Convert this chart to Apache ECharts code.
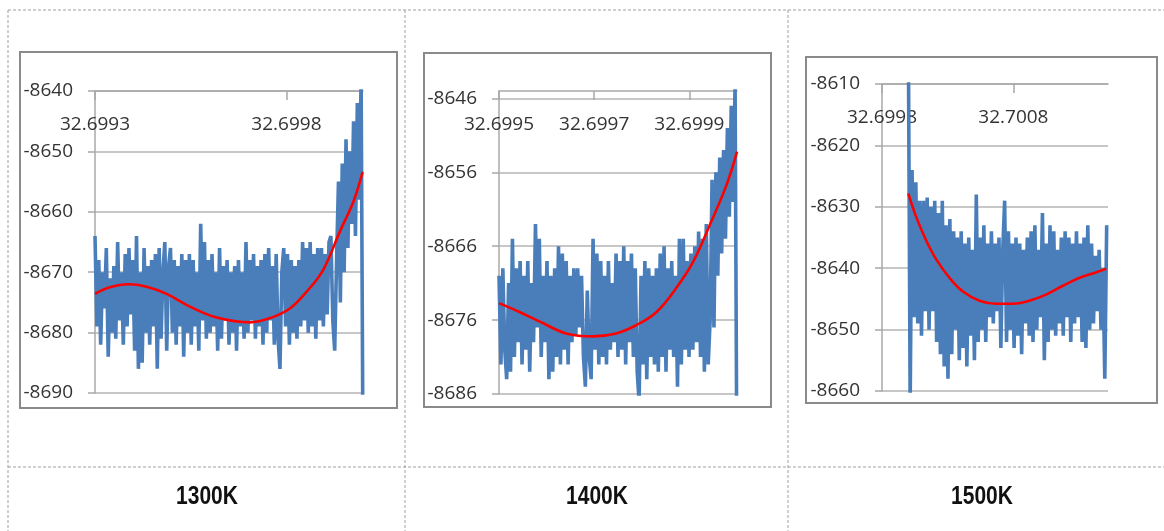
<!DOCTYPE html>
<html>
<head>
<meta charset="utf-8">
<title>Energy vs lattice parameter, 1300K / 1400K / 1500K</title>
<script src="https://cdn.jsdelivr.net/npm/echarts@6/dist/echarts.min.js"></script>
<style>
  html, body { margin: 0; padding: 0; background: #ffffff; }
  #chart { width: 1164px; height: 531px; }
</style>
</head>
<body>
<div id="chart"></div>
<script>
// ---- 1300K ----
const temp1300 = '1300K';
const xAxisRange1300 = [32.6993, 32.7000];
const xTickLabels1300 = [32.6993, 32.6998];
const yAxisRange1300 = [-8690, -8640];
const yTickLabels1300 = [-8690, -8680, -8670, -8660, -8650, -8640];
const sampleSpan1300 = [32.6993, 32.7000];
const energy1300 = [
  -8664, -8679, -8668, -8682, -8670, -8676, -8666, -8684, -8671, -8680,
  -8669, -8681, -8665, -8678, -8670, -8682, -8667, -8679, -8666, -8677,
  -8668, -8683, -8664, -8686, -8670, -8685, -8666, -8680, -8669, -8682,
  -8668, -8679, -8667, -8686, -8666, -8681, -8670, -8665, -8683, -8669,
  -8666, -8680, -8668, -8682, -8669, -8679, -8667, -8684, -8668, -8680,
  -8667, -8682, -8668, -8679, -8670, -8683, -8662, -8678, -8665, -8681,
  -8668, -8680, -8667, -8679, -8670, -8683, -8666, -8681, -8669, -8678,
  -8668, -8682, -8670, -8680, -8669, -8683, -8668, -8679, -8670, -8681,
  -8665, -8680, -8668, -8678, -8667, -8681, -8669, -8679, -8668, -8682,
  -8667, -8680, -8666, -8678, -8669, -8682, -8667, -8681, -8686, -8670,
  -8666, -8679, -8667, -8682, -8668, -8680, -8669, -8681, -8668, -8679,
  -8665, -8678, -8666, -8680, -8665, -8679, -8667, -8681, -8666, -8678,
  -8666, -8679, -8667, -8677, -8665, -8664, -8678, -8683, -8668, -8655,
  -8675, -8652, -8670, -8648, -8666, -8650, -8662, -8645, -8664, -8642,
  -8658, -8638, -8700
];
const fitX1300 = [32.69930, 32.699339, 32.699387, 32.699435, 32.699487, 32.699548, 32.699618,
  32.699705, 32.699757, 32.699809, 32.699853, 32.699896, 32.699940, 32.699975, 32.699999];
const fitY1300 = [-8673.6, -8672.5, -8672.0, -8672.4, -8673.6, -8675.7, -8677.5,
  -8678.3, -8677.6, -8676.0, -8673.2, -8669.6, -8663.2, -8658.3, -8653.4];

// ---- 1400K ----
const temp1400 = '1400K';
const xAxisRange1400 = [32.6995, 32.7000];
const xTickLabels1400 = [32.6995, 32.6997, 32.6999];
const yAxisRange1400 = [-8686, -8645];
const yTickLabels1400 = [-8686, -8676, -8666, -8656, -8646];
const sampleSpan1400 = [32.6995, 32.7000];
const energy1400 = [
  -8670, -8682, -8669, -8680, -8684, -8671, -8683, -8665, -8681, -8669,
  -8679, -8668, -8682, -8670, -8680, -8668, -8683, -8671, -8679, -8663,
  -8677, -8665, -8681, -8670, -8679, -8668, -8684, -8670, -8683, -8669,
  -8681, -8666, -8682, -8667, -8680, -8668, -8682, -8670, -8679, -8669,
  -8678, -8669, -8677, -8670, -8681, -8685, -8672, -8681, -8684, -8665,
  -8680, -8667, -8682, -8668, -8681, -8670, -8682, -8668, -8680, -8671,
  -8679, -8667, -8681, -8668, -8680, -8666, -8682, -8668, -8679, -8667,
  -8681, -8669, -8683, -8687, -8670, -8682, -8668, -8684, -8669, -8681,
  -8670, -8682, -8669, -8683, -8667, -8681, -8666, -8683, -8669, -8680,
  -8668, -8681, -8670, -8685, -8665, -8682, -8665, -8680, -8668, -8681,
  -8667, -8680, -8666, -8679, -8664, -8681, -8665, -8683, -8663, -8682,
  -8676, -8657, -8677, -8656, -8670, -8654, -8667, -8653, -8665, -8650,
  -8662, -8647, -8660, -8644, -8700
];
const fitX1400 = [32.69950, 32.699543, 32.699592, 32.699641, 32.699697, 32.699746, 32.699788,
  32.699831, 32.699872, 32.699908, 32.699943, 32.699978, 32.700000];
const fitY1400 = [-8673.7, -8674.9, -8676.4, -8677.8, -8678.2, -8677.8, -8676.7,
  -8674.9, -8671.7, -8668.1, -8663.1, -8657.7, -8653.2];

// ---- 1500K ----
const temp1500 = '1500K';
const xAxisRange1500 = [32.6998, 32.70152];
const xTickLabels1500 = [32.6998, 32.7008];
const yAxisRange1500 = [-8660, -8610];
const yTickLabels1500 = [-8660, -8650, -8640, -8630, -8620, -8610];
const sampleSpan1500 = [32.7000, 32.70151];
const energy1500 = [
  -8600, -8662, -8624, -8648, -8626, -8649, -8629, -8651, -8629, -8647,
  -8628.5, -8650, -8630, -8647, -8629, -8652, -8631, -8654, -8629, -8656,
  -8633, -8658, -8632, -8654, -8634, -8650, -8635, -8655, -8634, -8653,
  -8636, -8656, -8635, -8651, -8637, -8655, -8628, -8652, -8635, -8650,
  -8633, -8652, -8636, -8648, -8634, -8649, -8636, -8647, -8635, -8653,
  -8637, -8629, -8652, -8634, -8650, -8636, -8653, -8635, -8651, -8636,
  -8654, -8637, -8649, -8635, -8651, -8634, -8652, -8633, -8650, -8637,
  -8648, -8631, -8655, -8636, -8652, -8633, -8650, -8634, -8651, -8637,
  -8649, -8635, -8651, -8634, -8648, -8635, -8652, -8636, -8649, -8634,
  -8648, -8636, -8652, -8635, -8653, -8633, -8650, -8636, -8649, -8638,
  -8647, -8637, -8650, -8640, -8658, -8633
];
const fitX1500 = [32.700000, 32.700063, 32.700139, 32.700214, 32.700315, 32.700416, 32.700542,
  32.700669, 32.700795, 32.700921, 32.701048, 32.701174, 32.701300, 32.701426, 32.701507];
const fitY1500 = [-8627.8, -8631.8, -8635.6, -8638.6, -8641.6, -8643.8, -8645.3,
  -8645.8, -8645.8, -8645.3, -8644.3, -8642.9, -8641.6, -8640.7, -8640.1];

// ---- layout & style ----
const BLUE = '#4a7ebb';
const RED = '#ff0000';
const GRID_GRAY = '#b4b4b4';
const AXIS_GRAY = '#a8a8a8';
const TEXT = '#333333';
const LABEL_FONT = '"Open Sans", "Noto Sans", sans-serif';

const panels = [
  { name: temp1300, xr: xAxisRange1300, xt: xTickLabels1300, yr: yAxisRange1300, yt: yTickLabels1300,
    span: sampleSpan1300, e: energy1300, fx: fitX1300, fy: fitY1300,
    grid: { left: 95, top: 91, width: 268, height: 302 }, frame: [20, 52, 377, 356], cellCenter: 207 },
  { name: temp1400, xr: xAxisRange1400, xt: xTickLabels1400, yr: yAxisRange1400, yt: yTickLabels1400,
    span: sampleSpan1400, e: energy1400, fx: fitX1400, fy: fitY1400,
    grid: { left: 499, top: 91, width: 238, height: 303 }, frame: [424, 53, 347, 354], cellCenter: 597 },
  { name: temp1500, xr: xAxisRange1500, xt: xTickLabels1500, yr: yAxisRange1500, yt: yTickLabels1500,
    span: sampleSpan1500, e: energy1500, fx: fitX1500, fy: fitY1500,
    grid: { left: 882, top: 84, width: 226, height: 307 }, frame: [806, 57, 351, 346], cellCenter: 982 }
];

// MD samples are taken at evenly spaced steps across each sampled span
function samplePairs(span, values) {
  const n = values.length;
  return values.map((v, i) => [span[0] + (span[1] - span[0]) * i / (n - 1), v]);
}

const grids = [], xAxes = [], yAxes = [], series = [], graphics = [];

panels.forEach((p, k) => {
  grids.push(Object.assign({ containLabel: false, outerBoundsMode: 'none' }, p.grid));
  xAxes.push({
    type: 'value', gridIndex: k, position: 'top', min: p.xr[0], max: p.xr[1],
    axisLine: { show: true, onZero: false, lineStyle: { color: AXIS_GRAY, width: 1.5 } },
    axisTick: { show: true, inside: true, length: 9, customValues: p.xt, lineStyle: { color: AXIS_GRAY, width: 1.5 } },
    axisLabel: { show: true, inside: true, margin: 24, customValues: p.xt,
      formatter: v => Number(v).toFixed(4),
      color: TEXT, fontFamily: LABEL_FONT, fontSize: 19 },
    splitLine: { show: false }
  });
  yAxes.push({
    type: 'value', gridIndex: k, position: 'left', min: p.yr[0], max: p.yr[1],
    axisLine: { show: true, onZero: false, lineStyle: { color: AXIS_GRAY, width: 1.5 } },
    axisTick: { show: true, inside: false, length: 7, customValues: p.yt, lineStyle: { color: AXIS_GRAY, width: 1.5 } },
    axisLabel: { show: true, margin: 22, customValues: p.yt, formatter: v => String(v),
      color: TEXT, fontFamily: LABEL_FONT, fontSize: 19 },
    splitLine: { show: true, lineStyle: { color: GRID_GRAY, width: 1.5 } }
  });
  series.push({
    type: 'line', xAxisIndex: k, yAxisIndex: k, data: samplePairs(p.span, p.e),
    showSymbol: false, clip: true, z: 2, sampling: null,
    lineStyle: { color: BLUE, width: 3.6, join: 'miter', miterLimit: 3 }
  });
  series.push({
    type: 'line', xAxisIndex: k, yAxisIndex: k, data: p.fx.map((x, i) => [x, p.fy[i]]),
    showSymbol: false, smooth: 0.4, clip: true, z: 3,
    lineStyle: { color: RED, width: 2.6 }
  });
  graphics.push({
    type: 'rect', shape: { x: p.frame[0], y: p.frame[1], width: p.frame[2], height: p.frame[3] },
    style: { fill: 'none', stroke: '#8a8a8a', lineWidth: 2 }, z: -1
  });
  graphics.push({
    type: 'text', x: p.cellCenter, y: 497, scaleY: 1.25,
    style: { text: p.name, fill: '#111111', fontFamily: '"Liberation Sans", Arial, sans-serif',
      fontWeight: 'bold', fontSize: 21, textAlign: 'center', textVerticalAlign: 'middle' }
  });
});

// dashed table rules
const dash = { stroke: '#a0a0a0', lineWidth: 1, lineDash: [3, 2] };
[[8, 10, 1164, 10], [8, 467, 1164, 467], [8, 10, 8, 531], [405, 10, 405, 531], [788, 10, 788, 531]]
  .forEach(s => graphics.push({ type: 'line', shape: { x1: s[0], y1: s[1], x2: s[2], y2: s[3] }, style: dash, z: -2 }));

const chart = echarts.init(document.getElementById('chart'), null, { renderer: 'canvas' });
chart.setOption({
  animation: false,
  backgroundColor: '#ffffff',
  grid: grids,
  xAxis: xAxes,
  yAxis: yAxes,
  series: series,
  graphic: graphics
});
</script>
</body>
</html>
